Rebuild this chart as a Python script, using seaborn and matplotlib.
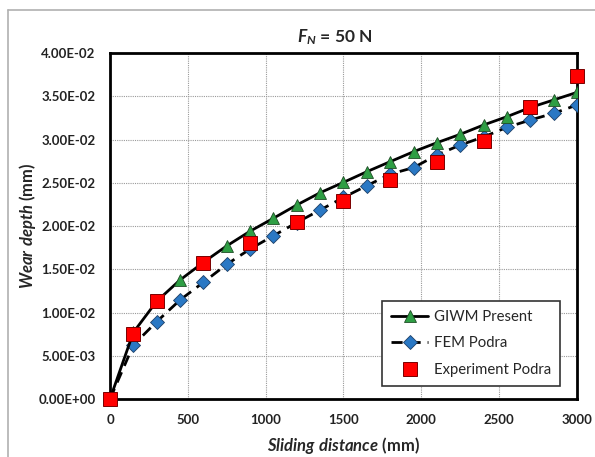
import seaborn as sns
import matplotlib.pyplot as plt
import matplotlib.ticker as mticker
from matplotlib.lines import Line2D
import numpy as np

# data
dist = [0, 150, 300, 450, 600, 750, 900, 1050, 1200, 1350, 1500, 1650, 1800,
        1950, 2100, 2250, 2400, 2550, 2700, 2850, 3000]
giwm = [0.0, 0.0077, 0.0113, 0.01376, 0.0158, 0.0177, 0.0194, 0.0209, 0.02243,
        0.02385, 0.02505, 0.02628, 0.02744, 0.02859, 0.02963, 0.0306, 0.03168,
        0.03264, 0.0337, 0.03457, 0.03545]
fem = [0.0, 0.00624, 0.00894, 0.01145, 0.01349, 0.01557, 0.01734, 0.01888, 0.0204,
       0.02185, 0.0233, 0.02466, 0.026, 0.02675, 0.02821, 0.02936, 0.0303,
       0.03141, 0.03225, 0.03303, 0.03399]
exp_dist = [0, 150, 300, 600, 900, 1200, 1500, 1800, 2100, 2400, 2700, 3000]
exp_val = [0.0, 0.00748, 0.01133, 0.01576, 0.01807, 0.0205, 0.02293, 0.02532,
           0.02744, 0.02983, 0.03372, 0.03738]

sns.set_style('white')
plt.rcParams['font.family'] = ['Lato', 'DejaVu Sans']
plt.rcParams['mathtext.fontset'] = 'custom'
plt.rcParams['mathtext.bfit'] = 'Lato:italic:bold'
plt.rcParams['mathtext.it'] = 'Lato:italic'
plt.rcParams['mathtext.rm'] = 'Lato'
plt.rcParams['mathtext.bf'] = 'Lato:bold'

green = '#2e9e44'
blue = '#2a78c4'
red = '#ff0000'

fig = plt.figure(figsize=(5.95, 4.57), dpi=100)
ax = fig.add_axes([0.1849, 0.1269, 0.7848, 0.7571])

# faint frame of the original picture
fig.add_artist(Line2D([8 / 595, 8 / 595], [0, 1 - 10 / 457], color='#b0b0b0', lw=1.2))
fig.add_artist(Line2D([8 / 595, 1], [1 - 10 / 457, 1 - 10 / 457], color='#b0b0b0', lw=1.2))

sns.lineplot(x=dist, y=fem, ax=ax, color='black', lw=2, ls=(0, (4, 2.5)),
             marker='D', markersize=7, markerfacecolor=blue,
             markeredgecolor='#1c3f66', markeredgewidth=0.6, zorder=3)
sns.lineplot(x=dist, y=giwm, ax=ax, color='black', lw=2,
             marker='^', markersize=9, markerfacecolor=green,
             markeredgecolor='#1f4d26', markeredgewidth=0.6, zorder=4)
ax.plot(exp_dist, exp_val, ls='none', marker='s', markersize=10,
        markerfacecolor=red, markeredgecolor='#7a0000', markeredgewidth=0.7,
        zorder=5, clip_on=False)

ax.set_xlim(0, 3000)
ax.set_ylim(0, 0.04)
ax.set_xticks(np.arange(0, 3001, 500))
ax.set_yticks(np.arange(0, 0.0401, 0.005))
ax.yaxis.set_major_formatter(mticker.FuncFormatter(lambda v, p: '{:.2E}'.format(v)))
ax.tick_params(axis='both', labelsize=9.5, direction='inout', length=5, width=1.5,
               color='black', pad=8)
for lab in ax.get_xticklabels() + ax.get_yticklabels():
    lab.set_fontweight('bold')
    lab.set_color('#222222')

ax.grid(True, color='#9a9a9a', ls=(0, (1, 1)), lw=0.8)
for s in ax.spines.values():
    s.set_color('black')
    s.set_linewidth(2)

ax.set_title(r'$\mathbfit{F}_{\mathbfit{N}}$ = 50 N', fontsize=12.5,
             fontweight='bold', pad=8, x=0.482)
ax.set_xlabel(r'$\mathbfit{Sliding\ distance}$ (mm)', fontsize=12, fontweight='bold',
              labelpad=7)
ax.set_ylabel(r'$\mathbfit{Wear\ depth}$ (mm)', fontsize=12, fontweight='bold',
              labelpad=0)

handles = [
    Line2D([], [], color='black', lw=2, marker='^', markersize=9,
           markerfacecolor=green, markeredgecolor='#1f4d26', markeredgewidth=0.6),
    Line2D([], [], color='black', lw=2, ls=(0, (4, 2.5)), marker='D', markersize=7,
           markerfacecolor=blue, markeredgecolor='#1c3f66', markeredgewidth=0.6),
    Line2D([], [], ls='none', marker='s', markersize=10,
           markerfacecolor=red, markeredgecolor='#7a0000', markeredgewidth=0.7),
]
labels = ['GIWM Present', 'FEM Podra', 'Experiment Podra']
leg = ax.legend(handles, labels, loc='lower right', bbox_to_anchor=(0.979, 0.017),
                fontsize=10.7, frameon=True, fancybox=False, edgecolor='#333333',
                framealpha=1, labelspacing=0.84, handlelength=2.5, handletextpad=0.35,
                borderpad=0.6)
leg.get_frame().set_linewidth(1.2)

fig.savefig('out.png', dpi=100)
